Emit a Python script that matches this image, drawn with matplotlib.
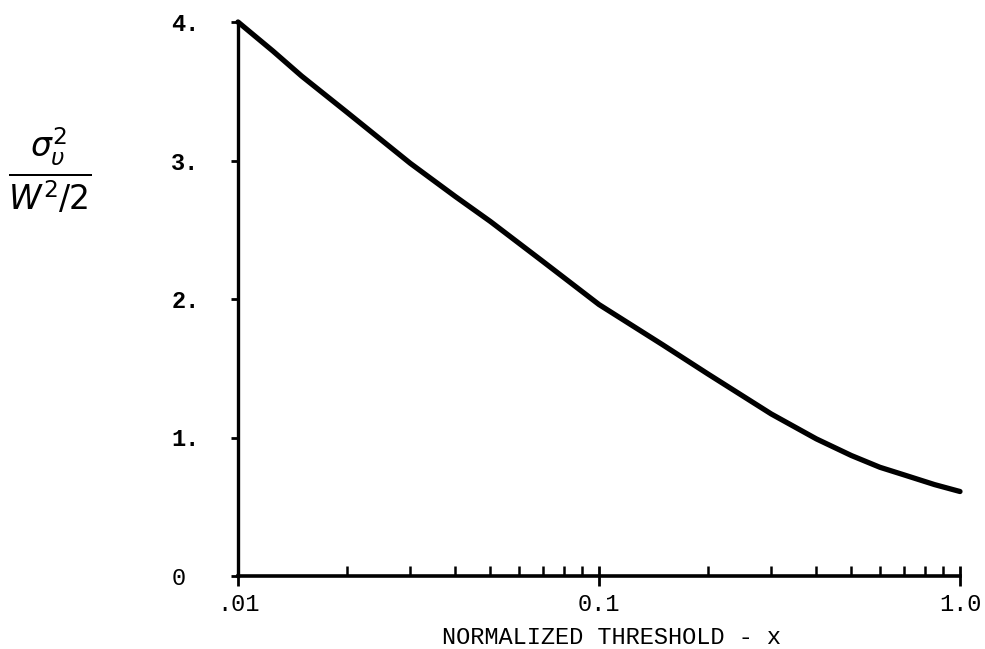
import numpy as np
import matplotlib
matplotlib.use("Agg")
import matplotlib.pyplot as plt
from matplotlib.ticker import FixedLocator, LogLocator, NullFormatter

# curve
thresh = [0.01, 0.0125, 0.015, 0.02, 0.03, 0.04, 0.05, 0.07, 0.1,
          0.15, 0.2, 0.3, 0.4, 0.5, 0.6, 0.7, 0.85, 1.0]
var_ratio = [4.00, 3.79, 3.61, 3.35, 2.98, 2.74, 2.56, 2.27, 1.96,
             1.67, 1.46, 1.17, 0.99, 0.87, 0.785, 0.73, 0.66, 0.61]

y_ticks = [0, 1, 2, 3, 4]
y_labels = ['0', '1.', '2.', '3.', '4.']
x_ticks = [0.01, 0.1, 1.0]
x_labels = ['.01', '0.1', '1.0']

fig = plt.figure(figsize=(9.85, 6.49), dpi=100)
ax = fig.add_axes([238 / 985, 1 - 576 / 649, (960 - 238) / 985, (576 - 22) / 649])

ax.plot(thresh, var_ratio, color='black', lw=3.8, solid_capstyle='round',
        solid_joinstyle='round', clip_on=False)

ax.set_xscale('log')
ax.set_xlim(0.01, 1.0)
ax.set_ylim(0, 4)

for s in ['top', 'right']:
    ax.spines[s].set_visible(False)
ax.spines['left'].set_linewidth(2.4)
ax.spines['bottom'].set_linewidth(2.6)

ax.xaxis.set_major_locator(FixedLocator(x_ticks))
ax.set_xticklabels(x_labels, family='Liberation Mono', fontsize=17)
ax.xaxis.set_minor_locator(LogLocator(base=10, subs=np.arange(2, 10)))
ax.xaxis.set_minor_formatter(NullFormatter())
ax.tick_params(axis='x', which='major', direction='inout', length=14, width=2, pad=5)
ax.tick_params(axis='x', which='minor', direction='in', length=7, width=1.8)

ax.set_yticks(y_ticks)
ax.set_yticklabels(y_labels, family='Liberation Mono', fontsize=17, fontweight='bold')
for lbl in ax.get_yticklabels():
    lbl.set_horizontalalignment('left')
ax.get_yticklabels()[0].set_fontweight('normal')
ax.tick_params(axis='y', direction='out', length=5, width=2, pad=43)

ax.set_xlabel('NORMALIZED THRESHOLD - x', family='Liberation Mono', fontsize=17, va='center')
ax.xaxis.set_label_coords((612 - 238) / 722, -(637 - 576) / 554)

# hand-lettered y label
fig.text(50 / 985, 1 - 170 / 649, r'$\frac{\sigma_{\upsilon}^{2}}{W^{2}/2}$',
         fontsize=34, ha='center', va='center')

fig.savefig('out.png', dpi=100)
